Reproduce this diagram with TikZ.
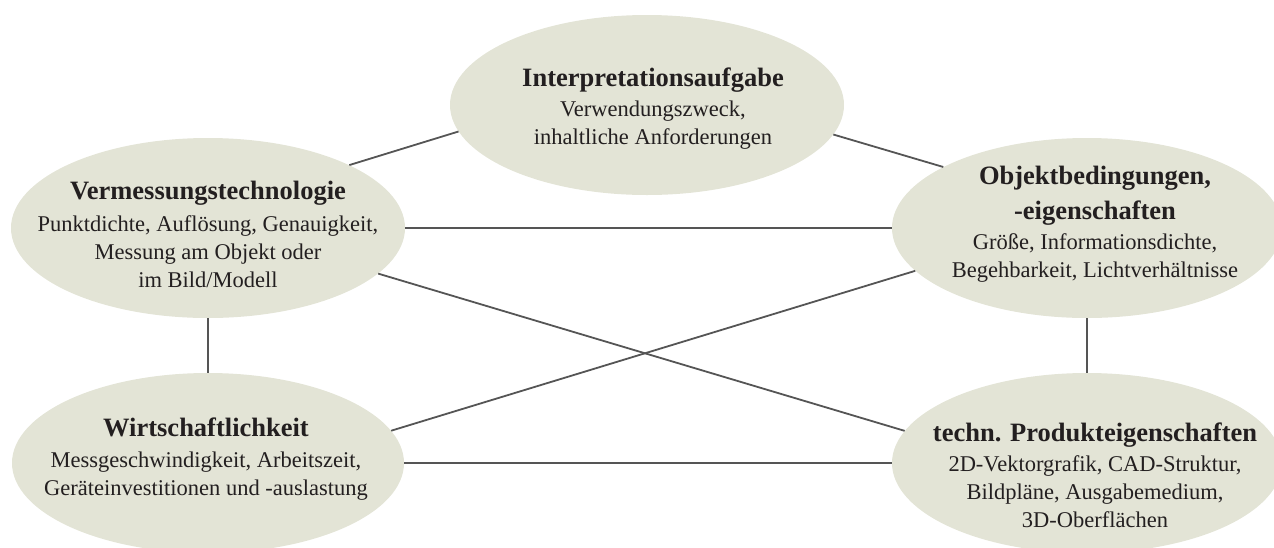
\documentclass[tikz,border=0pt]{standalone}
\usepackage{fontspec}
\setmainfont{Liberation Serif}
\usetikzlibrary{shapes.geometric}
\definecolor{ellfill}{RGB}{227,228,214}
\definecolor{linegray}{RGB}{85,85,85}
\definecolor{txtcol}{RGB}{35,31,32}
\tikzset{
  bubble/.style={ellipse, fill=ellfill, draw=none, inner sep=0pt, minimum height=180pt},
  link/.style={draw=linegray, line width=1.8pt},
  lbl/.style={align=center, text=txtcol, inner sep=0pt, anchor=base, font=\fontsize{22.5}{28}\selectfont}
}
\newcommand{\ttl}[1]{{\fontsize{26.5}{33}\selectfont\bfseries #1}}
\begin{document}
\begin{tikzpicture}[x=1pt,y=-1pt]
\useasboundingbox (0,0) rectangle (1274,547);
\node[bubble, minimum width=394pt] (interp) at (647,105) {};
\node[bubble, minimum width=394pt] (verm) at (208,228) {};
\node[bubble, minimum width=390pt] (objekt) at (1087,228) {};
\node[bubble, minimum width=392pt] (wirt) at (208,463) {};
\node[bubble, minimum width=390pt] (techn) at (1087,463) {};

\draw[link] (verm.24.1) -- (interp.188.5);
\draw[link] (interp.-9.2) -- (objekt.157);
\draw[link] (verm.east) -- (objekt.west);
\draw[link] (verm.-15.9) -- (techn.170.1);
\draw[link] (wirt.10.7) -- (objekt.194.9);
\draw[link] (wirt.east) -- (techn.west);
\draw[link] (verm.south) -- (wirt.north);
\draw[link] (objekt.south) -- (techn.north);

\node[lbl] (interp-t) at (653,144) {\ttl{Interpretationsaufgabe}\\[2pt] Verwendungszweck,\\ inhaltliche Anforderungen};
\node[lbl] (verm-t) at (208,287) {\ttl{Vermessungstechnologie}\\[4pt] Punktdichte, Auflösung, Genauigkeit,\\ Messung am Objekt oder\\ im Bild/Modell};
\node[lbl] (objekt-t) at (1095,277) {\ttl{Objektbedingungen,}\\[7pt] \ttl{-eigenschaften}\\[2pt] Größe, Informationsdichte,\\ Begehbarkeit, Lichtverhältnisse};
\node[lbl] (wirt-t) at (206,495) {\ttl{Wirtschaftlichkeit}\\[3pt] Messgeschwindigkeit, Arbeitszeit,\\ Geräteinvestitionen und -auslastung};
\node[lbl] (techn-t) at (1095,527) {\ttl{techn. Produkteigenschaften}\\[2pt] 2D-Vektorgrafik, CAD-Struktur,\\ Bildpläne, Ausgabemedium,\\ 3D-Oberflächen};
\end{tikzpicture}
\end{document}
